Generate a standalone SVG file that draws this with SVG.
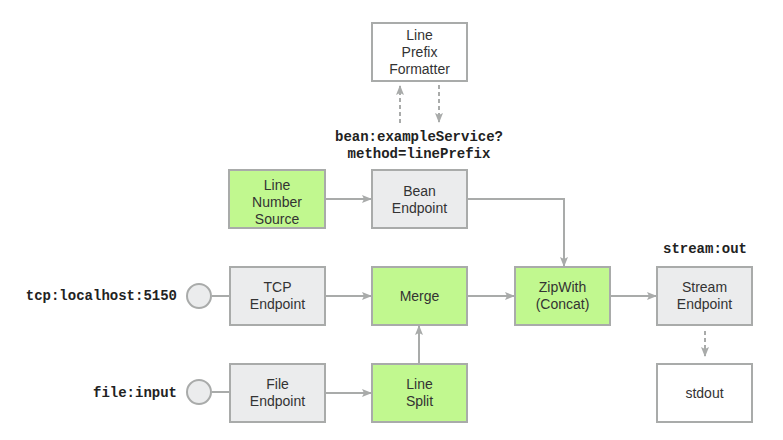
<svg xmlns="http://www.w3.org/2000/svg" width="783" height="440" viewBox="0 0 783 440">
<defs>
<marker id="ah" viewBox="0 0 10 10" refX="9" refY="5" markerWidth="10" markerHeight="10" markerUnits="userSpaceOnUse" orient="auto">
<path d="M0,1 L10,5 L0,9 L2,5 Z" fill="#a9abaa"/>
</marker>
</defs>
<style>
.box{stroke:#a9abaa;stroke-width:2}
.g{fill:#ebeced}
.gr{fill:#c1f88f}
.w{fill:#ffffff}
.t{font-family:"Liberation Sans",Arial,sans-serif;font-size:14px;fill:#333;text-anchor:middle}
.m{font-family:"Liberation Mono","Courier New",monospace;font-size:14px;font-weight:bold;fill:#222}
.c{fill:none;stroke:#a9abaa;stroke-width:2;marker-end:url(#ah)}
.d{stroke-dasharray:4,3}
</style>
<rect width="783" height="440" fill="#fff"/>
<g id="connectors">
<path class="c d" d="M400,123 V86"/>
<path class="c d" d="M439,85 V122"/>
<path class="c" d="M325,199 H371"/>
<path class="c" d="M467,199 H564 V266"/>
<path class="c" d="M212,296 H229" style="marker-end:none"/>
<path class="c" d="M212,392 H229" style="marker-end:none"/>
<path class="c" d="M325,296 H371"/>
<path class="c" d="M325,393 H371"/>
<path class="c" d="M419,364 V326"/>
<path class="c" d="M467,296 H514"/>
<path class="c" d="M610,296 H656"/>
<path class="c d" d="M705,331 V356"/>
</g>
<g id="formatter"><rect class="box w" x="372" y="23" width="95" height="58"/>
<text class="t" x="419.5" y="40">Line</text><text class="t" x="419.5" y="57">Prefix</text><text class="t" x="419.5" y="74">Formatter</text></g>
<g id="bean-label"><text class="m" x="419" y="141" text-anchor="middle">bean:exampleService?</text><text class="m" x="419" y="158" text-anchor="middle">method=linePrefix</text></g>
<g id="linenumber"><rect class="box gr" x="229" y="170" width="96" height="58"/>
<text class="t" x="277" y="190">Line</text><text class="t" x="277" y="207">Number</text><text class="t" x="277" y="224">Source</text></g>
<g id="bean"><rect class="box g" x="372" y="170" width="95" height="58"/>
<text class="t" x="419.5" y="196">Bean</text><text class="t" x="419.5" y="213">Endpoint</text></g>
<g id="tcp-label"><text class="m" x="177" y="300" text-anchor="end">tcp:localhost:5150</text></g>
<g id="tcp-circle"><circle cx="199" cy="296" r="12" fill="#ebeced" stroke="#a9abaa" stroke-width="2"/></g>
<g id="tcp"><rect class="box g" x="230" y="267" width="95" height="58"/>
<text class="t" x="277.5" y="292">TCP</text><text class="t" x="277.5" y="309">Endpoint</text></g>
<g id="merge"><rect class="box gr" x="372" y="267" width="95" height="58"/>
<text class="t" x="419.5" y="301">Merge</text></g>
<g id="zipwith"><rect class="box gr" x="515" y="267" width="95" height="58"/>
<text class="t" x="562.5" y="292">ZipWith</text><text class="t" x="562.5" y="309">(Concat)</text></g>
<g id="stream-label"><text class="m" x="705" y="253" text-anchor="middle">stream:out</text></g>
<g id="stream"><rect class="box g" x="657" y="267" width="95" height="58"/>
<text class="t" x="704.5" y="292">Stream</text><text class="t" x="704.5" y="309">Endpoint</text></g>
<g id="file-label"><text class="m" x="177" y="397" text-anchor="end">file:input</text></g>
<g id="file-circle"><circle cx="199" cy="392" r="12" fill="#ebeced" stroke="#a9abaa" stroke-width="2"/></g>
<g id="file"><rect class="box g" x="230" y="364" width="95" height="58"/>
<text class="t" x="277.5" y="389">File</text><text class="t" x="277.5" y="406">Endpoint</text></g>
<g id="linesplit"><rect class="box gr" x="372" y="364" width="95" height="58"/>
<text class="t" x="419.5" y="389">Line</text><text class="t" x="419.5" y="406">Split</text></g>
<g id="stdout"><rect class="box w" x="657" y="364" width="95" height="58"/>
<text class="t" x="704.5" y="398">stdout</text></g>
</svg>
